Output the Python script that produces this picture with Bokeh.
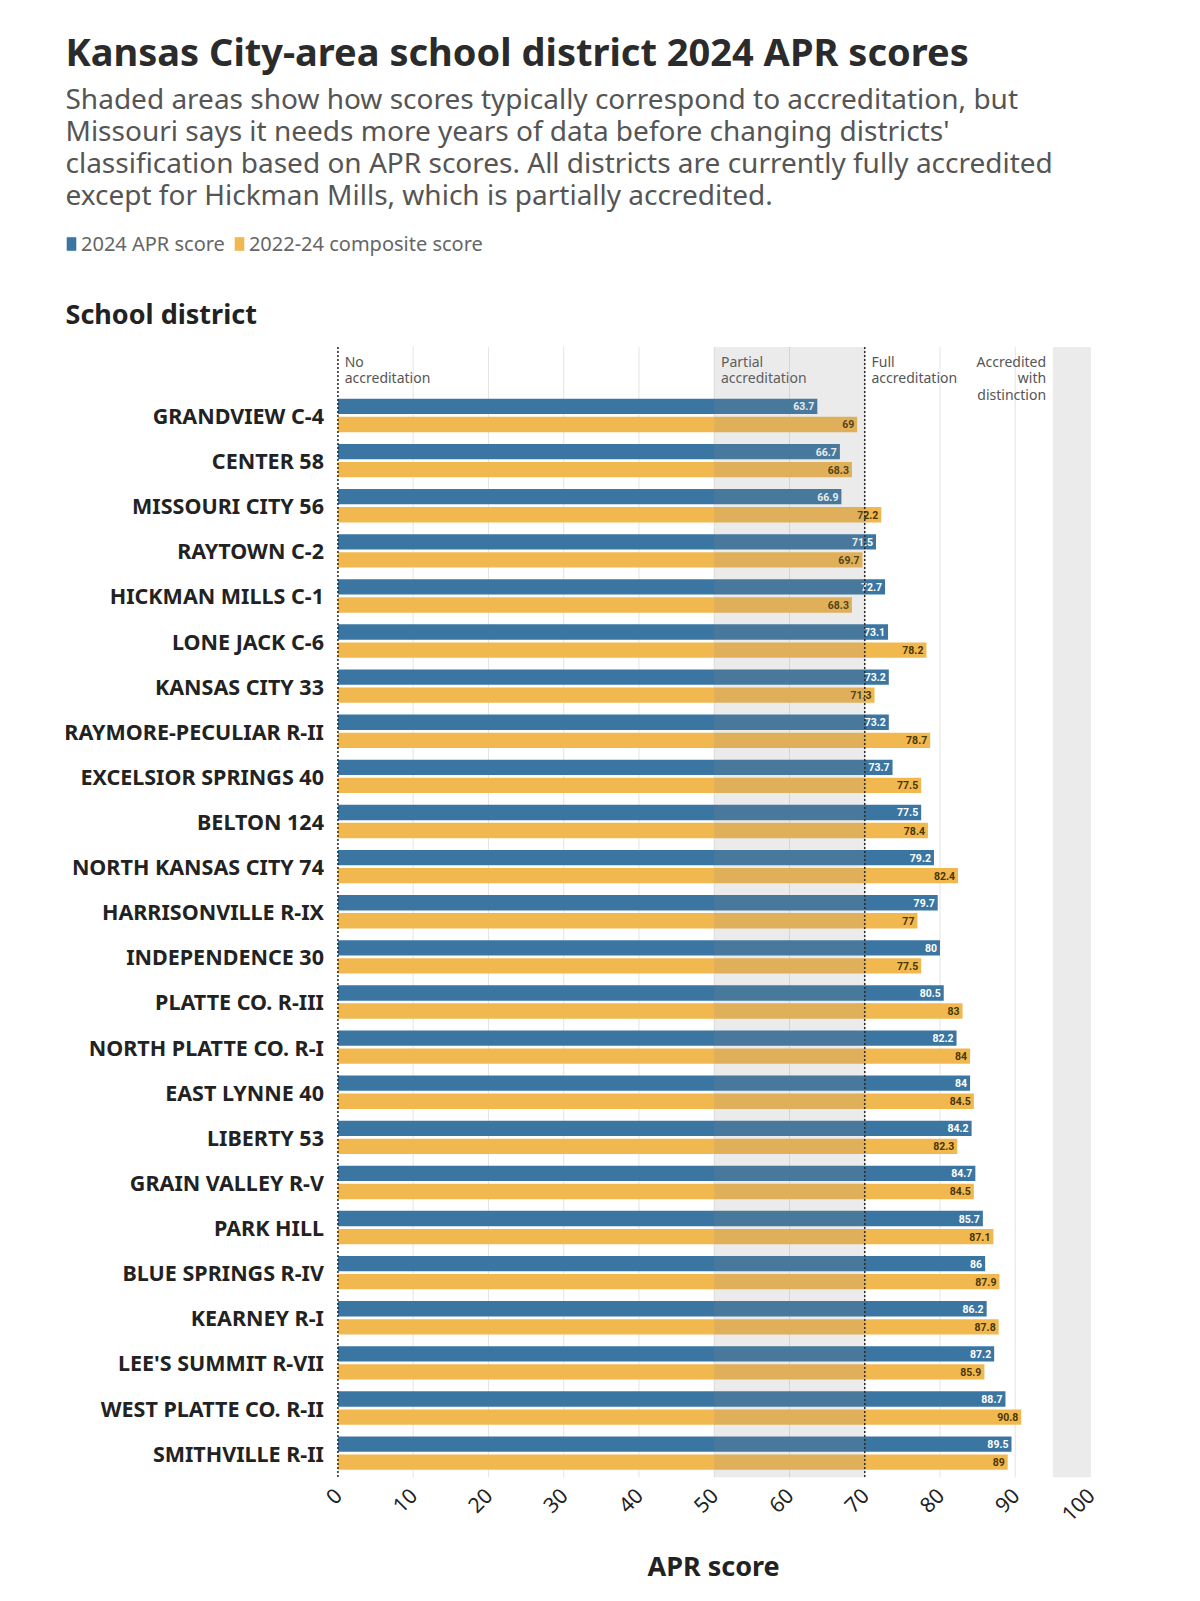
from bokeh.plotting import figure
from bokeh.models import (Range1d, BoxAnnotation, Title, Legend, LegendItem,
                          FixedTicker, ColumnDataSource)
from bokeh.transform import dodge
from bokeh.core.properties import value
from bokeh.embed import file_html
from bokeh.resources import INLINE

# дані з картинки
districts = ["GRANDVIEW C-4", "CENTER 58", "MISSOURI CITY 56", "RAYTOWN C-2",
             "HICKMAN MILLS C-1", "LONE JACK C-6", "KANSAS CITY 33",
             "RAYMORE-PECULIAR R-II", "EXCELSIOR SPRINGS 40", "BELTON 124",
             "NORTH KANSAS CITY 74", "HARRISONVILLE R-IX", "INDEPENDENCE 30",
             "PLATTE CO. R-III", "NORTH PLATTE CO. R-I", "EAST LYNNE 40",
             "LIBERTY 53", "GRAIN VALLEY R-V", "PARK HILL", "BLUE SPRINGS R-IV",
             "KEARNEY R-I", "LEE'S SUMMIT R-VII", "WEST PLATTE CO. R-II",
             "SMITHVILLE R-II"]
apr_2024 = [63.7, 66.7, 66.9, 71.5, 72.7, 73.1, 73.2, 73.2, 73.7, 77.5, 79.2, 79.7,
            80, 80.5, 82.2, 84, 84.2, 84.7, 85.7, 86, 86.2, 87.2, 88.7, 89.5]
composite = [69, 68.3, 72.2, 69.7, 68.3, 78.2, 71.3, 78.7, 77.5, 78.4, 82.4, 77,
             77.5, 83, 84, 84.5, 82.3, 84.5, 87.1, 87.9, 87.8, 85.9, 90.8, 89]
x_ticks = [0, 10, 20, 30, 40, 50, 60, 70, 80, 90, 100]
band_names = ["No\naccreditation", "Partial\naccreditation", "Full\naccreditation",
              "Accredited\nwith\ndistinction"]
band_edges = [0, 50, 70, 95]
series_names = ["2024 APR score", "2022-24 composite score"]

title_text = "Kansas City-area school district 2024 APR scores"
subtitle_lines = [
    "Shaded areas show how scores typically correspond to accreditation, but",
    "Missouri says it needs more years of data before changing districts'",
    "classification based on APR scores. All districts are currently fully accredited",
    "except for Hickman Mills, which is partially accredited.",
]

BLUE = "#3b76a2"
GOLD = "#f1b850"
FONT = "Noto Sans"

# рамка займає всю сторінку над віссю x; шапка малюється всередині
X_LO = -36.2
Y_TOP = -9.198
Y_BAND = -1.52
Y_BOT = len(districts) - 0.46
FRAME_H = 1477

rows = list(range(len(districts)))
src = ColumnDataSource(dict(
    row=rows, name=districts, zero=[0] * len(rows), apr=apr_2024, comp=composite,
    apr_txt=[f"{v:g}" for v in apr_2024],
    comp_txt=[f"{v:g}" for v in composite],
))

p = figure(frame_width=1025, frame_height=FRAME_H, title=None,
           x_range=Range1d(X_LO, 100), y_range=Range1d(Y_BOT, Y_TOP),
           y_axis_type=None, output_backend="svg", toolbar_location=None,
           min_border_left=65, min_border_right=94, min_border_top=0,
           min_border_bottom=0)
p.outline_line_color = None

# заголовок і підзаголовок
p.text(x=[X_LO], y=[-8.088], text=[title_text], text_align="left",
       text_baseline="middle", text_font_size="38px", text_font_style="bold",
       text_color="#2b2b2b", text_font=value(FONT))
p.text(x=[X_LO] * 4, y=[-7.046 + 0.7093 * i for i in range(4)], text=subtitle_lines,
       text_align="left", text_baseline="middle", text_font_size="28px",
       text_color="#555555", text_font=value(FONT))

# сітка лише в зоні графіка
p.segment(x0=x_ticks[1:], x1=x_ticks[1:], y0=[Y_BAND] * 10, y1=[Y_BOT] * 10,
          line_color="#e4e4e4", line_width=1)

r1 = p.hbar(y=dodge("row", -0.2), left=0, right="apr", height=0.34, source=src,
            fill_color=BLUE, line_color=None)
r2 = p.hbar(y=dodge("row", 0.2), left=0, right="comp", height=0.34, source=src,
            fill_color=GOLD, line_color=None)

p.text(x="apr", y=dodge("row", -0.2), text="apr_txt", source=src, x_offset=-3,
       text_align="right", text_baseline="middle", text_font_size="10.5px",
       text_font_style="bold", text_color="white", text_font=value("Roboto"))
p.text(x="comp", y=dodge("row", 0.2), text="comp_txt", source=src, x_offset=-3,
       text_align="right", text_baseline="middle", text_font_size="10.5px",
       text_font_style="bold", text_color="#4a3600", text_font=value("Roboto"))

# назви округів
p.text(x="zero", y="row", text="name", source=src, x_offset=-14, text_align="right",
       text_baseline="middle", text_font_size="21.5px", text_font_style="bold",
       text_color="#222222", text_font=value(FONT))
p.text(x=[X_LO], y=[-2.263], text=["School district"], text_align="left",
       text_baseline="middle", text_font_size="27px", text_font_style="bold",
       text_color="#222222", text_font=value(FONT))

# смуги
p.add_layout(BoxAnnotation(left=band_edges[1], right=band_edges[2], top=Y_BAND,
                           bottom=Y_BOT, fill_color="#8a8a8a", fill_alpha=0.17,
                           line_color=None))
p.add_layout(BoxAnnotation(left=band_edges[3], right=100, top=Y_BAND, bottom=Y_BOT,
                           fill_color="#8a8a8a", fill_alpha=0.17, line_color=None))
p.segment(x0=[band_edges[0], band_edges[2]], x1=[band_edges[0], band_edges[2]],
          y0=[Y_BAND] * 2, y1=[Y_BOT] * 2, line_color="#222222", line_width=1.5,
          line_dash="2 2")

# підписи смуг
p.text(x=[e + 0.9 for e in band_edges[:3]], y=[Y_BAND] * 3, text=band_names[:3],
       y_offset=5, text_align="left", text_baseline="top", text_font_size="14px",
       text_color="#555555", text_line_height=0.87, text_font=value(FONT))
p.text(x=[band_edges[3] - 0.9], y=[Y_BAND], text=band_names[3:],
       y_offset=5, text_align="right", text_baseline="top", text_font_size="14px",
       text_color="#555555", text_line_height=0.87, text_font=value(FONT))

# вісь x
p.xaxis.ticker = FixedTicker(ticks=x_ticks)
p.xaxis.major_label_orientation = 0.785
p.xaxis.major_label_text_font = FONT
p.xaxis.major_label_text_font_size = "21px"
p.xaxis.major_label_text_color = "#222222"
p.xaxis.major_label_standoff = 8
p.xaxis.axis_line_color = None
p.xaxis.major_tick_line_color = None
p.xaxis.minor_tick_line_color = None
p.grid.visible = False

# підпис осі x, по центру зони 0-100
p.add_layout(Title(text="APR score", align="left", offset=582, standoff=27,
                   text_font=FONT, text_font_size="27px", text_font_style="bold",
                   text_color="#222222"), "below")

# легенда
p.add_layout(Legend(items=[LegendItem(label=series_names[0], renderers=[r1]),
                           LegendItem(label=series_names[1], renderers=[r2])],
                    orientation="horizontal", location=(0, FRAME_H - 257),
                    glyph_width=12, glyph_height=17, label_standoff=4, spacing=8,
                    padding=0, margin=0, border_line_color=None,
                    background_fill_alpha=0, label_text_font=FONT,
                    label_text_font_size="20px", label_text_color="#666666"))

open("out.html", "w").write(file_html(p, INLINE))
